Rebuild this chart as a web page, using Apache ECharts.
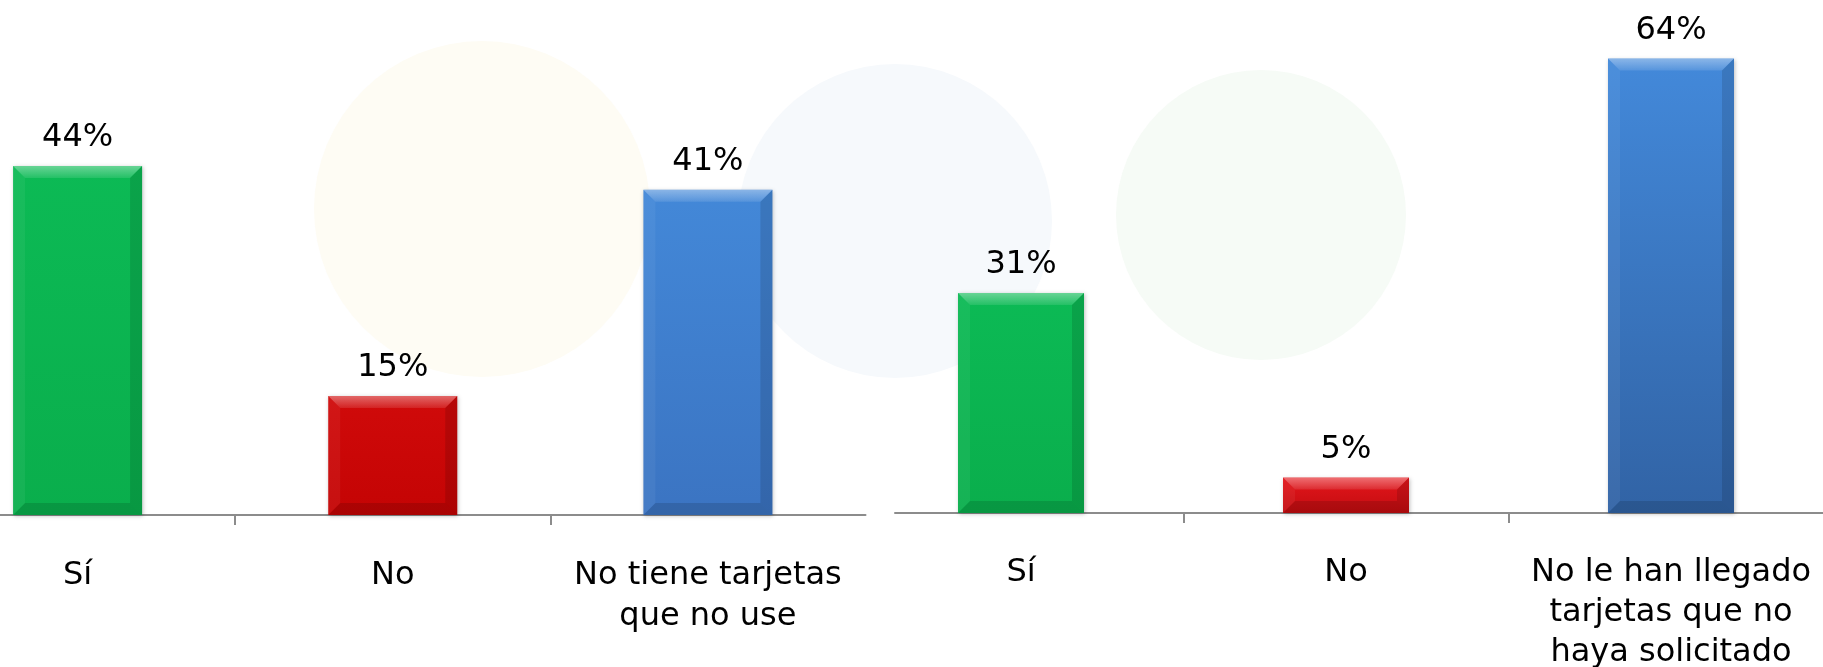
<!DOCTYPE html>
<html>
<head>
<meta charset="utf-8">
<script src="https://cdn.jsdelivr.net/npm/echarts@6/dist/echarts.min.js"></script>
<style>
  html, body { margin: 0; padding: 0; background: #ffffff; overflow: hidden; width: 1823px; height: 667px; }
  #chart { position: absolute; left: -80px; top: 0; width: 1914px; height: 667px; }
</style>
</head>
<body>
<div id="chart"></div>
<script>
// ---- Data ----
const leftCategories = ['Sí', 'No', 'No tiene tarjetas\nque no use'];
const leftValues = [44, 15, 41];
const rightCategories = ['Sí', 'No', 'No le han llegado\ntarjetas que no\nhaya solicitado'];
const rightValues = [31, 5, 64];

// ---- Styles ----
const FONT = 'DejaVu Sans';
const AXIS_COLOR = '#8c8c8c';

function vgrad(top, bottom) {
  return new echarts.graphic.LinearGradient(0, 0, 0, 1, [
    { offset: 0, color: top }, { offset: 1, color: bottom }
  ]);
}
const leftColors = [
  vgrad('#0cba55', '#0aae4c'),
  vgrad('#d00a0a', '#c40404'),
  vgrad('#4388d8', '#3b74c2')
];
const rightColors = [
  vgrad('#0cba55', '#0aae4c'),
  vgrad('#e4161c', '#c20c10'),
  vgrad('#4389da', '#3163a5')
];

function bevel(barW) {
  return function (params, api) {
    const idx = api.value(0);
    const val = api.value(1);
    const top = api.coord([idx, val]);
    const base = api.coord([idx, 0]);
    const x0 = top[0] - barW / 2, x1 = top[0] + barW / 2;
    const y0 = top[1], y1 = base[1];
    const b = Math.min(12, (y1 - y0) / 2.5);
    return {
      type: 'group',
      children: [
        { type: 'polygon', shape: { points: [[x0, y0], [x1, y0], [x1 - b, y0 + b], [x0 + b, y0 + b]] },
          style: { fill: new echarts.graphic.LinearGradient(0, 0, 0, 1, [
            { offset: 0, color: 'rgba(255,255,255,0.38)' }, { offset: 1, color: 'rgba(255,255,255,0.10)' }]) } },
        { type: 'polygon', shape: { points: [[x0, y1], [x1, y1], [x1 - b, y1 - b], [x0 + b, y1 - b]] },
          style: { fill: 'rgba(0,0,0,0.13)' } },
        { type: 'polygon', shape: { points: [[x0, y0], [x0 + b, y0 + b], [x0 + b, y1 - b], [x0, y1]] },
          style: { fill: 'rgba(255,255,255,0.05)' } },
        { type: 'polygon', shape: { points: [[x1, y0], [x1 - b, y0 + b], [x1 - b, y1 - b], [x1, y1]] },
          style: { fill: 'rgba(0,0,0,0.12)' } }
      ]
    };
  };
}

const labelStyle = { fontFamily: FONT, fontSize: 32, color: '#000000' };

const chart = echarts.init(document.getElementById('chart'), null, { renderer: 'canvas' });

// container is shifted 80px left of the page; container x = page x + 80
const G = { outerBoundsMode: 'none', containLabel: false };
const option = {
  backgroundColor: '#ffffff',
  animation: false,
  graphic: [
    { type: 'circle', silent: true, z: -10, shape: { cx: 562, cy: 209, r: 168 }, style: { fill: '#fefcf4' } },
    { type: 'circle', silent: true, z: -10, shape: { cx: 975, cy: 221, r: 157 }, style: { fill: '#f6f9fc' } },
    { type: 'circle', silent: true, z: -10, shape: { cx: 1341, cy: 215, r: 145 }, style: { fill: '#f6fbf6' } }
  ],
  grid: [
    { ...G, left: 0, right: 968.5, top: 39, bottom: 152 },     // 0 left bars
    { ...G, left: 938.5, right: 0.5, top: 16, bottom: 154 },   // 1 right bars
    { ...G, left: 0, right: 968.5, top: 39, bottom: 152 },     // 2 left baseline
    { ...G, left: 938.5, right: 0.5, top: 16, bottom: 154 },   // 3 right ticks
    { ...G, left: 975, right: 0.5, top: 16, bottom: 154 }      // 4 right baseline
  ],
  xAxis: [
    { type: 'category', gridIndex: 0, data: leftCategories,
      axisLine: { show: false }, axisTick: { show: false },
      axisLabel: { interval: 0, margin: 40, lineHeight: 41, ...labelStyle } },
    { type: 'category', gridIndex: 1, data: rightCategories,
      axisLine: { show: false }, axisTick: { show: false },
      axisLabel: { interval: 0, margin: 40, lineHeight: 40, ...labelStyle } },
    { type: 'value', gridIndex: 2, min: 0, max: 6, interval: 6,
      axisLine: { show: true, onZero: false, lineStyle: { color: AXIS_COLOR, width: 2 } },
      axisTick: { show: false }, axisLabel: { show: false }, splitLine: { show: false },
      minorTick: { show: true, splitNumber: 3, length: 10, lineStyle: { color: AXIS_COLOR, width: 2 } } },
    { type: 'value', gridIndex: 3, min: 0, max: 6, interval: 6,
      axisLine: { show: false, onZero: false },
      axisTick: { show: false }, axisLabel: { show: false }, splitLine: { show: false },
      minorTick: { show: true, splitNumber: 3, length: 10, lineStyle: { color: AXIS_COLOR, width: 2 } } },
    { type: 'value', gridIndex: 4, min: 0, max: 1,
      axisLine: { show: true, onZero: false, lineStyle: { color: AXIS_COLOR, width: 2 } },
      axisTick: { show: false }, axisLabel: { show: false }, splitLine: { show: false } }
  ],
  yAxis: [
    { type: 'value', gridIndex: 0, min: 0, max: 60, show: false },
    { type: 'value', gridIndex: 1, min: 0, max: 70, show: false },
    { type: 'value', gridIndex: 2, min: 0, max: 1, show: false },
    { type: 'value', gridIndex: 3, min: 0, max: 1, show: false },
    { type: 'value', gridIndex: 4, min: 0, max: 1, show: false }
  ],
  series: [
    { type: 'bar', xAxisIndex: 0, yAxisIndex: 0, barWidth: 129, z: 2,
      data: leftValues.map((v, i) => ({ value: v, itemStyle: { color: leftColors[i] } })),
      itemStyle: { shadowColor: 'rgba(0,0,0,0.25)', shadowBlur: 4, shadowOffsetX: 1, shadowOffsetY: 1 },
      label: { show: true, position: 'top', distance: 12, formatter: '{c}%', ...labelStyle } },
    { type: 'bar', xAxisIndex: 1, yAxisIndex: 1, barWidth: 126, z: 2,
      data: rightValues.map((v, i) => ({ value: v, itemStyle: { color: rightColors[i] } })),
      itemStyle: { shadowColor: 'rgba(0,0,0,0.25)', shadowBlur: 4, shadowOffsetX: 1, shadowOffsetY: 1 },
      label: { show: true, position: 'top', distance: 12, formatter: '{c}%', ...labelStyle } },
    { type: 'custom', xAxisIndex: 0, yAxisIndex: 0, z: 3, silent: true,
      renderItem: bevel(129), encode: { x: 0, y: 1 },
      data: leftValues.map((v, i) => [i, v]) },
    { type: 'custom', xAxisIndex: 1, yAxisIndex: 1, z: 3, silent: true,
      renderItem: bevel(126), encode: { x: 0, y: 1 },
      data: rightValues.map((v, i) => [i, v]) }
  ]
};
chart.setOption(option);
</script>
</body>
</html>
